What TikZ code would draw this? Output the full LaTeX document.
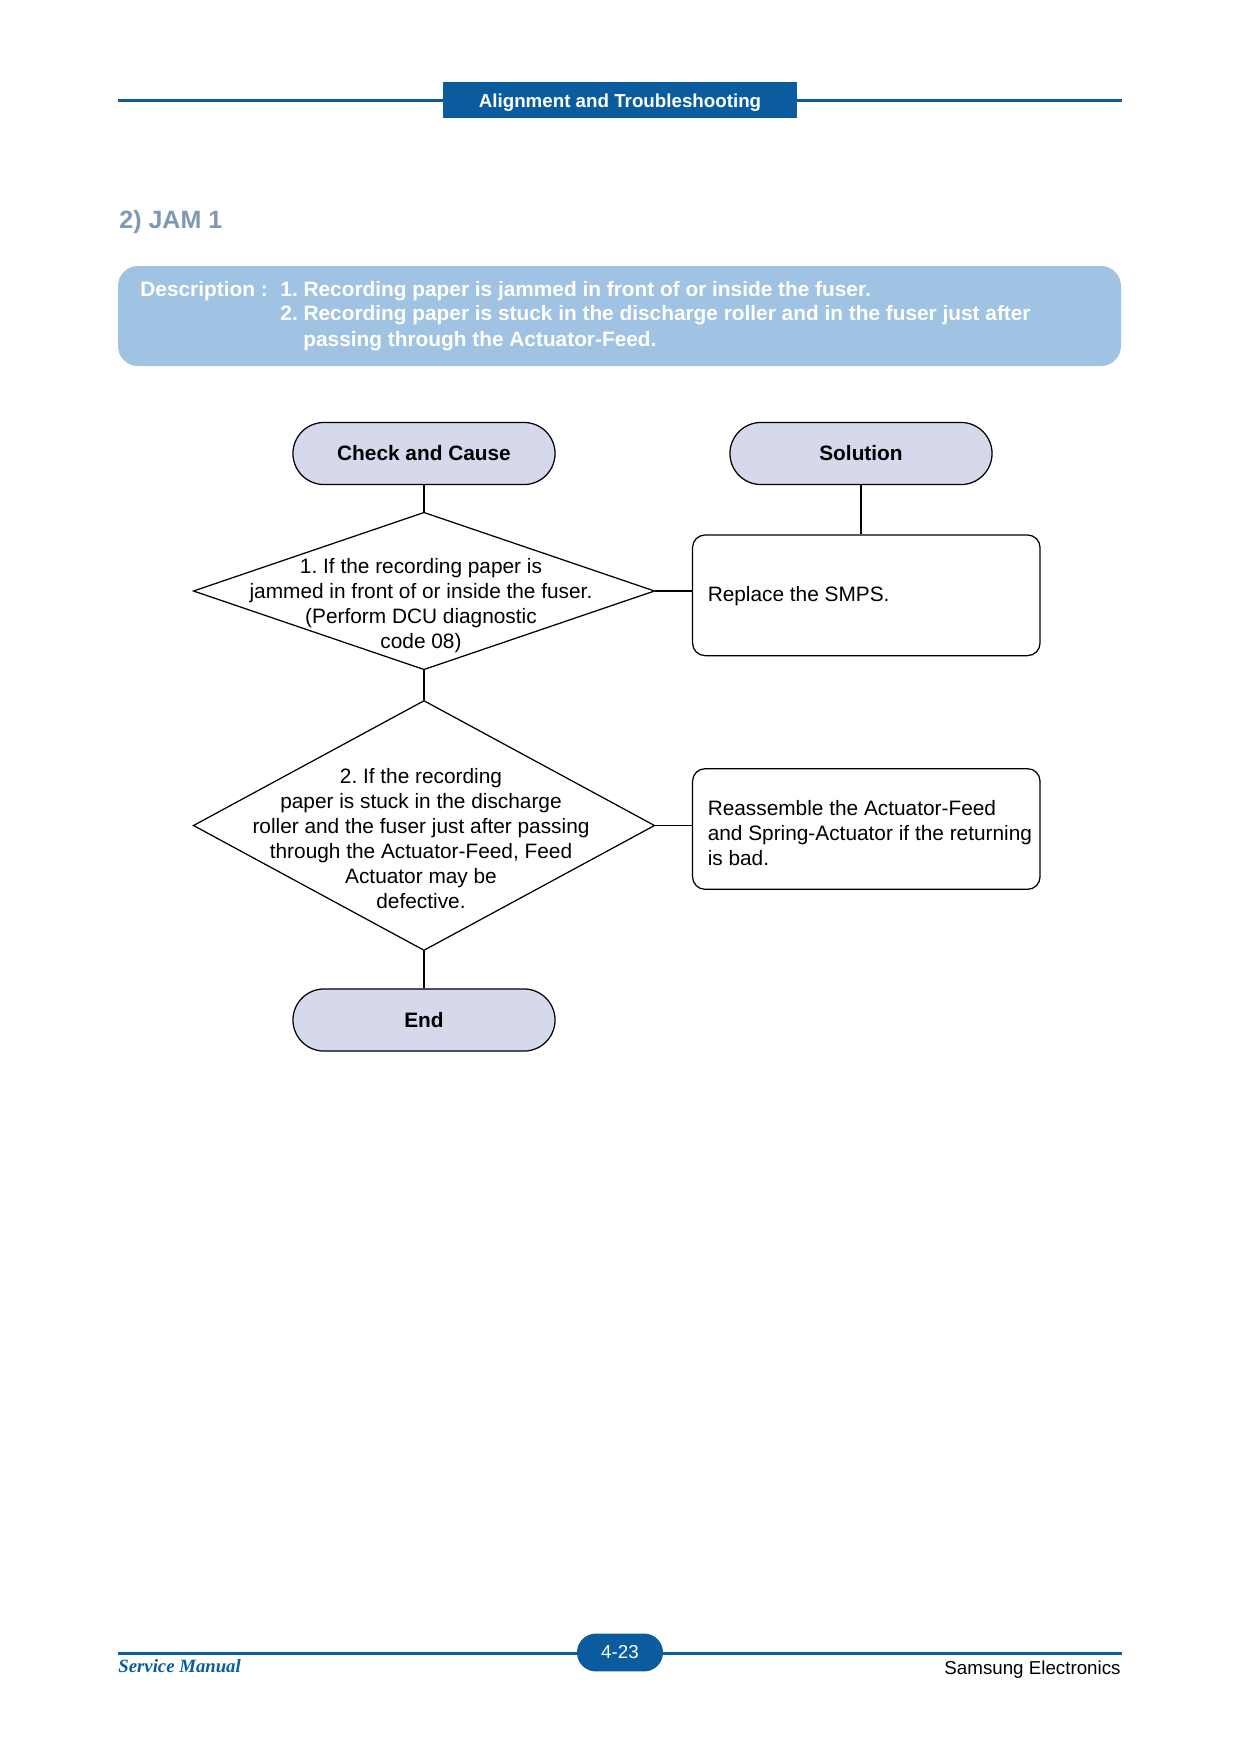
\documentclass[tikz,border=0pt]{standalone}
\usepackage{fontspec}
\setmainfont{Liberation Sans}
\newfontfamily\manualserif{Liberation Serif}
\usetikzlibrary{shapes.geometric}
\frenchspacing

\begin{document}
\begin{tikzpicture}[x=0.48pt, y=-0.48pt,
  terminal/.style={draw=black, line width=0.6pt, fill=lavender, rounded corners=14.9pt, minimum width=125.8pt, minimum height=29.8pt, inner sep=0pt, font=\fontsize{10}{12}\selectfont\bfseries},
  decision/.style={draw=black, line width=0.6pt, diamond, minimum width=221.5pt, inner sep=0pt},
  fixbox/.style={draw=black, line width=0.6pt, rounded corners=6pt, minimum width=166.8pt, minimum height=57.9pt, inner sep=0pt},
  bodytext/.style={font=\fontsize{10}{12}\selectfont, inner sep=0pt},
  desctext/.style={anchor=base west, inner sep=0pt, text=white, font=\fontsize{10}{12}\selectfont\bfseries},
  link/.style={line width=0.6pt}]

\definecolor{samsungblue}{RGB}{10,92,158}
\definecolor{descblue}{RGB}{160,195,227}
\definecolor{jamgray}{RGB}{127,152,180}
\definecolor{lavender}{RGB}{214,216,236}

\fill[white] (0,0) rectangle (1240,1754);
\useasboundingbox (0,0) rectangle (1240,1754);

% Kopfzeile
\draw[samsungblue, line width=1pt] (118,100.5) -- (1122,100.5);
\node[fill=samsungblue, minimum width=170pt, minimum height=17.3pt, inner sep=0pt, text height=6.6pt, text depth=0pt, text=white, font=\fontsize{9}{11}\selectfont\bfseries] (chapter) at (620,100.2) {Alignment and Troubleshooting};

% Titel
\node[anchor=base west, inner sep=0pt, text=jamgray, font=\fontsize{12}{14}\selectfont\bfseries] (title) at (119,228) {2) JAM 1};

% Beschreibung
\fill[descblue, rounded corners=9.6pt] (118,266) rectangle (1121,366);
\node[desctext] (desclabel) at (140,296) {Description :};
\node[desctext] (descone) at (280,296) {1. Recording paper is jammed in front of or inside the fuser.};
\node[desctext] (desctwo) at (280,320.5) {2. Recording paper is stuck in the discharge roller and in the fuser just after};
\node[desctext] (descthree) at (303,346) {passing through the Actuator-Feed.};

% Ablauf
\node[terminal] (cause) at (424,453.5) {Check and Cause};
\node[terminal] (solution) at (861,453.5) {Solution};
\node[decision, minimum height=75.6pt] (dec1) at (424,591) {};
\node[decision, minimum height=120pt] (dec2) at (424,825.5) {};
\node[terminal] (end) at (424,1020) {End};
\node[fixbox] (fix1) at (866.3,595.3) {};
\node[fixbox] (fix2) at (866.3,829) {};

\node[bodytext, align=center] (dec1text) at (421,605.5) {1. If the recording paper is\\jammed in front of or inside the fuser.\\(Perform DCU diagnostic\\code 08)};
\node[bodytext, align=center] (dec2text) at (421,838.5) {2. If the recording\\paper is stuck in the discharge\\roller and the fuser just after passing\\through the Actuator-Feed, Feed\\Actuator may be\\defective.};
\node[bodytext, anchor=west] (fix1text) at ([xshift=7.4pt, yshift=-0.2pt]fix1.west) {Replace the SMPS.};
\node[bodytext, anchor=west, align=left] (fix2text) at ([xshift=7.4pt, yshift=-2pt]fix2.west) {Reassemble the Actuator-Feed\\and Spring-Actuator if the returning\\is bad.};

% Verbindungen
\draw[link] (cause) -- (dec1);
\draw[link] (solution) -- (solution |- fix1.north);
\draw[link] (dec1.east) -- (dec1.east -| fix1.west);
\draw[link] (dec1) -- (dec2);
\draw[link] (dec2.east) -- (dec2.east -| fix2.west);
\draw[link] (dec2) -- (end);

% Fusszeile
\draw[samsungblue, line width=1pt] (118,1653.5) -- (1122,1653.5);
\node[fill=samsungblue, rounded corners=9.1pt, minimum width=41.3pt, minimum height=18.2pt, inner sep=0pt, text=white, font=\fontsize{9}{11}\selectfont] (page) at (620,1652.5) {4-23};
\node[anchor=base west, inner sep=0pt, text=samsungblue, font=\manualserif\fontsize{9}{11}\selectfont\bfseries\itshape] (manual) at (118,1672) {Service Manual};
\node[anchor=base east, inner sep=0pt, font=\fontsize{9}{11}\selectfont] (maker) at (1121,1674) {Samsung Electronics};

\end{tikzpicture}
\end{document}
